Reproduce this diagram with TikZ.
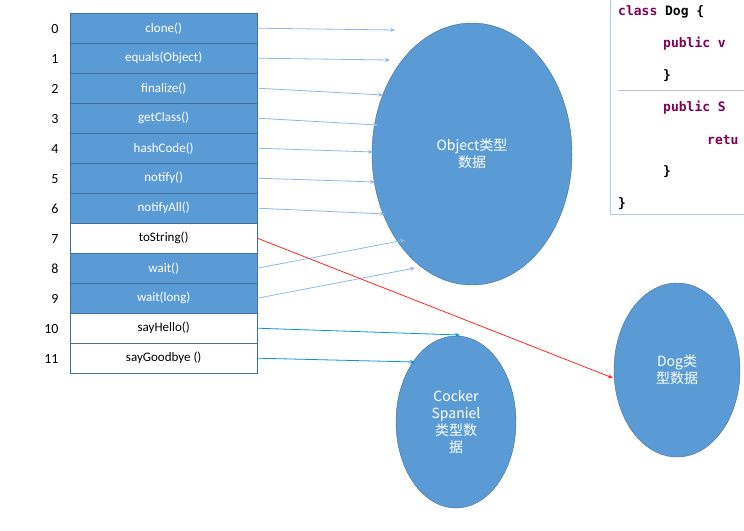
\documentclass[tikz,border=0pt]{standalone}
\usepackage{fontspec}
\setmainfont{Carlito}
\newfontfamily\cjk{Noto Sans CJK SC}
\newfontfamily\codef{DejaVu Sans Mono}
\usetikzlibrary{arrows.meta,shapes.geometric}
\definecolor{cb}{HTML}{5B9BD5}
\definecolor{cbd}{HTML}{41719C}
\definecolor{ar}{HTML}{8DB8E6}
\definecolor{kw}{HTML}{7F0055}
\tikzset{
 cell/.style={draw=cbd,minimum width=187pt,minimum height=30pt,inner sep=0,font=\fontsize{13}{13}\selectfont,anchor=north west},
 bc/.style={cell,fill=cb,text=white},
 wc/.style={cell,fill=white,text=black},
 num/.style={font=\fontsize{14}{14}\selectfont},
 ell/.style={draw=cbd,fill=cb,text=white,font=\fontsize{14}{17}\selectfont\cjk,align=center},
 ln/.style={-{Stealth[length=5pt,width=4pt]},draw=ar,line width=0.8pt},
}
\begin{document}
\begin{tikzpicture}[x=1pt,y=-1pt]
\useasboundingbox (0,0) rectangle (744,530);
% code panel
\begin{scope}
\clip (600,0) rectangle (744,220);
\draw[draw=ar!70,line width=1pt] (610,-5) -- (610,214) -- (760,214);
\draw[gray!50] (618,90) -- (750,90);
\node[anchor=west,font=\codef\bfseries\fontsize{13}{13}\selectfont,inner sep=0] (c1) at (618,12) {\textcolor{kw}{class} Dog \{};
\node[anchor=west,font=\codef\bfseries\fontsize{13}{13}\selectfont,inner sep=0,text=kw] (c2) at (663,44) {public v};
\node[anchor=west,font=\codef\bfseries\fontsize{13}{13}\selectfont,inner sep=0] (c3) at (663,76) {\}};
\node[anchor=west,font=\codef\bfseries\fontsize{13}{13}\selectfont,inner sep=0,text=kw] (c4) at (663,108) {public S};
\node[anchor=west,font=\codef\bfseries\fontsize{13}{13}\selectfont,inner sep=0,text=kw] (c5) at (707,140) {retu};
\node[anchor=west,font=\codef\bfseries\fontsize{13}{13}\selectfont,inner sep=0] (c6) at (663,172) {\}};
\node[anchor=west,font=\codef\bfseries\fontsize{13}{13}\selectfont,inner sep=0] (c7) at (618,204) {\}};
\end{scope}
% ellipses
\node[ell,ellipse,minimum width=200pt,minimum height=262pt] (obj) at (472,154) {Object类型\\数据};
\node[ell,minimum width=126pt,minimum height=174pt,ellipse] (dog) at (677,370) {Dog类\\型数据};
\node[ell,minimum width=120pt,minimum height=172pt,ellipse] (ck) at (456,422) {Cocker\\Spaniel\\类型数\\据};
% table
\foreach \i/\t/\s in {0/clone()/bc,1/equals(Object)/bc,2/finalize()/bc,3/getClass()/bc,4/hashCode()/bc,5/notify()/bc,6/notifyAll()/bc,7/toString()/wc,8/wait()/bc,9/wait(long)/bc,10/sayHello()/wc,11/sayGoodbye ()/wc}{
 \node[\s] (r\i) at (70,{13+30*\i}) {\t};
 \node[num,anchor=east] (n\i) at (62,{29+30*\i}) {\i};
}
\coordinate (t0) at (395,30); \coordinate (t1) at (390,60);
\coordinate (t2) at (383,95); \coordinate (t3) at (378,125);
\coordinate (t4) at (373,152); \coordinate (t5) at (375,182);
\coordinate (t6) at (385,214); \coordinate (t7) at (405,240);
\coordinate (t8) at (415,268);
\draw[ln] (r0.east) -- (t0);
\draw[ln] (r1.east) -- (t1);
\draw[ln] (r2.east) -- (t2);
\draw[ln] (r3.east) -- (t3);
\draw[ln] (r4.east) -- (t4);
\draw[ln] (r5.east) -- (t5);
\draw[ln] (r6.east) -- (t6);
\draw[ln] (r8.east) -- (t7);
\draw[ln] (r9.east) -- (t8);
\coordinate (td) at (613,378);
\draw[ln,draw=red!85] (r7.east) -- (td);
\coordinate (th) at (460,335);
\draw[ln,draw=cyan!80!blue] (r10.east) -- (th);
\coordinate (tg) at (415,362);
\draw[ln,draw=cyan!80!blue] (r11.east) -- (tg);
\end{tikzpicture}
\end{document}
